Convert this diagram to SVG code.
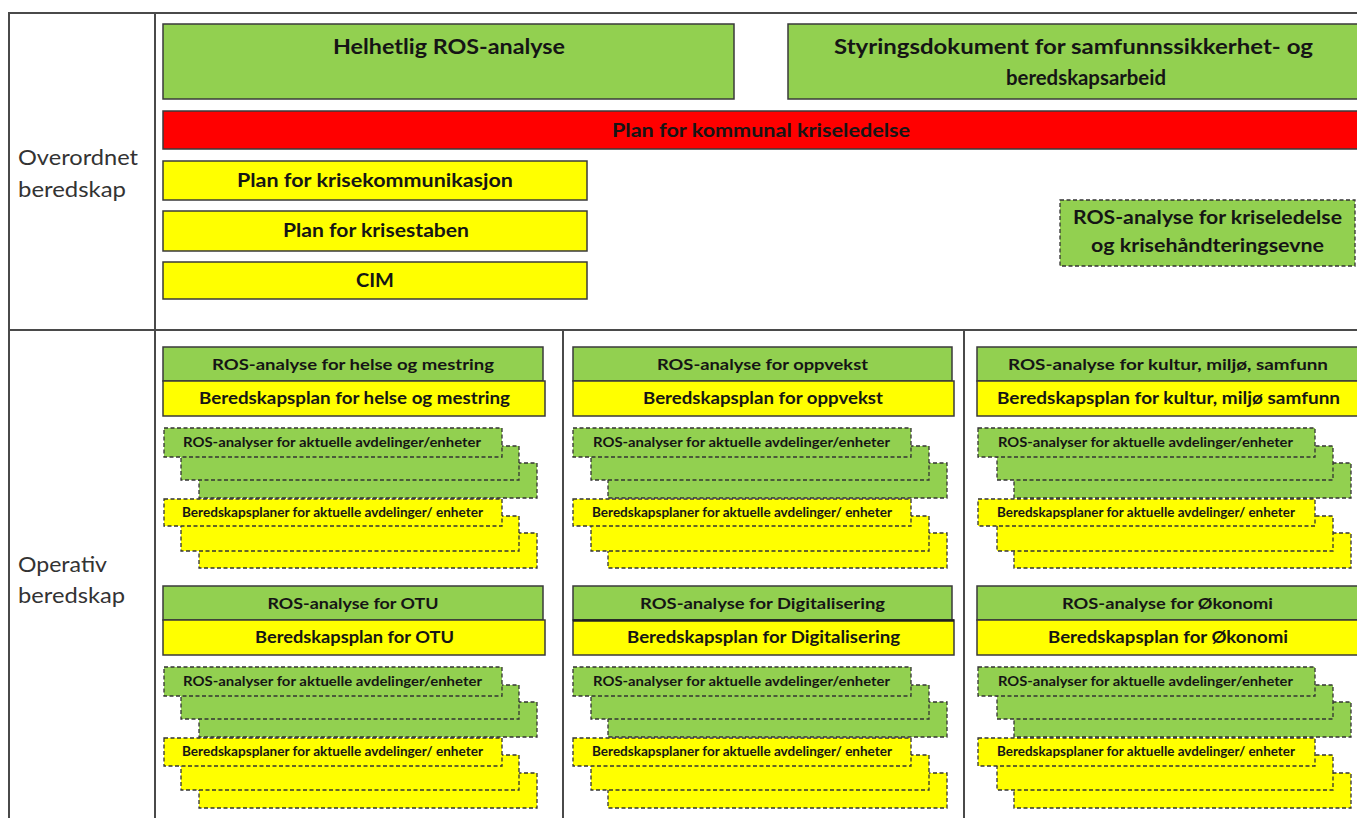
<svg xmlns="http://www.w3.org/2000/svg" width="1357" height="818" viewBox="0 0 1357 818">
<style>
text{font-family:Lato,"Liberation Sans",sans-serif;fill:#151515;text-anchor:middle;font-weight:bold}
.lbl{font-weight:normal;fill:#333;text-anchor:start;font-size:21px}
.g{fill:#92d050;stroke:#3a3a3a;stroke-width:1.5}
.y{fill:#ffff00;stroke:#3a3a3a;stroke-width:1.5}
.r{fill:#ff0000;stroke:#3a3a3a;stroke-width:1.5}
.gd{fill:#92d050;stroke:#333;stroke-width:1.3;stroke-dasharray:4 2.5}
.yd{fill:#ffff00;stroke:#333;stroke-width:1.3;stroke-dasharray:4 2.5}
.t20{font-size:20px}
.t18{font-size:18px}
.t16{font-size:16px}
.t17{font-size:17px}
.sm{font-size:12.5px;text-anchor:start}
.fl{stroke:#4a4a4a;stroke-width:2;fill:none}
</style>
<rect width="1357" height="818" fill="#ffffff"/>
<g id="frame">
<rect x="9" y="13" width="1360" height="820" fill="#fef8ec" class="fl"/>
<line x1="155" y1="13" x2="155" y2="818" class="fl"/>
<line x1="9" y1="330" x2="1357" y2="330" class="fl"/>
<line x1="563" y1="330" x2="563" y2="818" class="fl"/>
<line x1="964" y1="330" x2="964" y2="818" class="fl"/>
</g>
<g id="connectors"></g>
<g id="label-overordnet">
<text class="lbl" x="18" y="165" textLength="120" lengthAdjust="spacingAndGlyphs">Overordnet</text>
<text class="lbl" x="18" y="197" textLength="108" lengthAdjust="spacingAndGlyphs">beredskap</text>
</g>
<g id="label-operativ">
<text class="lbl" x="18" y="572" textLength="89" lengthAdjust="spacingAndGlyphs">Operativ</text>
<text class="lbl" x="18" y="603" textLength="107" lengthAdjust="spacingAndGlyphs">beredskap</text>
</g>
<g id="helhetlig-ros">
<rect class="g" x="163" y="24" width="571" height="75"/>
<text class="t20" x="449" y="54" textLength="232" lengthAdjust="spacingAndGlyphs">Helhetlig ROS-analyse</text>
</g>
<g id="styringsdokument">
<rect class="g" x="788" y="24" width="580" height="75"/>
<text class="t20" x="1073.5" y="54" textLength="479" lengthAdjust="spacingAndGlyphs">Styringsdokument for samfunnssikkerhet- og</text>
<text class="t20" x="1086" y="85" textLength="160" lengthAdjust="spacingAndGlyphs">beredskapsarbeid</text>
</g>
<g id="kriseledelse">
<rect class="r" x="163" y="111" width="1205" height="38"/>
<text class="t18" x="761" y="137" textLength="298" lengthAdjust="spacingAndGlyphs">Plan for kommunal kriseledelse</text>
</g>
<g id="krisekommunikasjon">
<rect class="y" x="163" y="161" width="424" height="39"/>
<text class="t18" x="375" y="187" textLength="276" lengthAdjust="spacingAndGlyphs">Plan for krisekommunikasjon</text>
</g>
<g id="krisestaben">
<rect class="y" x="163" y="211" width="424" height="40"/>
<text class="t18" x="376" y="237" textLength="186" lengthAdjust="spacingAndGlyphs">Plan for krisestaben</text>
</g>
<g id="cim">
<rect class="y" x="163" y="262" width="424" height="37"/>
<text class="t18" x="375" y="287" textLength="38" lengthAdjust="spacingAndGlyphs">CIM</text>
</g>
<g id="ros-kriseledelse">
<rect class="gd" x="1060" y="200" width="295" height="66"/>
<text class="t18" x="1207.5" y="224" textLength="269" lengthAdjust="spacingAndGlyphs">ROS-analyse for kriseledelse</text>
<text class="t18" x="1207.5" y="252" textLength="233" lengthAdjust="spacingAndGlyphs">og krisehåndteringsevne</text>
</g>

<!-- Row 1, Col 1 -->
<g id="helse">
<rect class="g" x="163" y="347" width="380" height="34"/>
<text class="t16" x="353" y="370" textLength="282" lengthAdjust="spacingAndGlyphs">ROS-analyse for helse og mestring</text>
<rect class="y" x="163" y="381" width="382" height="35"/>
<text class="t17" x="354.5" y="404" textLength="311" lengthAdjust="spacingAndGlyphs">Beredskapsplan for helse og mestring</text>
</g>
<g id="helse-ros-enheter">
<rect class="gd" x="199" y="463" width="338" height="35"/>
<rect class="gd" x="181" y="446" width="338" height="34"/>
<rect class="gd" x="164" y="428" width="338" height="29"/>
<text class="sm" x="183" y="447" textLength="298" lengthAdjust="spacingAndGlyphs">ROS-analyser for aktuelle avdelinger/enheter</text>
</g>
<g id="helse-plan-enheter">
<rect class="yd" x="199" y="533" width="338" height="35"/>
<rect class="yd" x="181" y="516" width="338" height="35"/>
<rect class="yd" x="164" y="499" width="338" height="27"/>
<text class="sm" x="182" y="517" textLength="301" lengthAdjust="spacingAndGlyphs">Beredskapsplaner for aktuelle avdelinger/ enheter</text>
</g>

<!-- Row 1, Col 2 -->
<g id="oppvekst">
<rect class="g" x="573" y="347" width="379" height="34"/>
<text class="t16" x="762.5" y="370" textLength="211" lengthAdjust="spacingAndGlyphs">ROS-analyse for oppvekst</text>
<rect class="y" x="573" y="381" width="381" height="35"/>
<text class="t17" x="763" y="404" textLength="240" lengthAdjust="spacingAndGlyphs">Beredskapsplan for oppvekst</text>
</g>
<g id="oppvekst-ros-enheter">
<rect class="gd" x="608" y="463" width="339" height="35"/>
<rect class="gd" x="591" y="446" width="338" height="34"/>
<rect class="gd" x="573" y="428" width="338" height="29"/>
<text class="sm" x="593" y="447" textLength="297" lengthAdjust="spacingAndGlyphs">ROS-analyser for aktuelle avdelinger/enheter</text>
</g>
<g id="oppvekst-plan-enheter">
<rect class="yd" x="608" y="533" width="339" height="35"/>
<rect class="yd" x="591" y="516" width="338" height="35"/>
<rect class="yd" x="573" y="499" width="338" height="27"/>
<text class="sm" x="592" y="517" textLength="300" lengthAdjust="spacingAndGlyphs">Beredskapsplaner for aktuelle avdelinger/ enheter</text>
</g>

<!-- Row 1, Col 3 -->
<g id="kultur">
<rect class="g" x="977" y="347" width="390" height="34"/>
<text class="t16" x="1168" y="370" textLength="320" lengthAdjust="spacingAndGlyphs">ROS-analyse for kultur, miljø, samfunn</text>
<rect class="y" x="977" y="381" width="390" height="35"/>
<text class="t17" x="1168.5" y="404" textLength="343" lengthAdjust="spacingAndGlyphs">Beredskapsplan for kultur, miljø samfunn</text>
</g>
<g id="kultur-ros-enheter">
<rect class="gd" x="1014" y="463" width="337" height="35"/>
<rect class="gd" x="997" y="446" width="336" height="34"/>
<rect class="gd" x="978" y="428" width="337" height="29"/>
<text class="sm" x="998" y="447" textLength="295" lengthAdjust="spacingAndGlyphs">ROS-analyser for aktuelle avdelinger/enheter</text>
</g>
<g id="kultur-plan-enheter">
<rect class="yd" x="1014" y="533" width="337" height="35"/>
<rect class="yd" x="997" y="516" width="336" height="35"/>
<rect class="yd" x="978" y="499" width="337" height="27"/>
<text class="sm" x="997" y="517" textLength="298" lengthAdjust="spacingAndGlyphs">Beredskapsplaner for aktuelle avdelinger/ enheter</text>
</g>

<!-- Row 2, Col 1 -->
<g id="otu">
<rect class="g" x="163" y="586" width="380" height="34"/>
<text class="t16" x="353" y="609" textLength="171" lengthAdjust="spacingAndGlyphs">ROS-analyse for OTU</text>
<rect class="y" x="163" y="620" width="382" height="35"/>
<text class="t17" x="354.5" y="643" textLength="199" lengthAdjust="spacingAndGlyphs">Beredskapsplan for OTU</text>
</g>
<g id="otu-ros-enheter">
<rect class="gd" x="199" y="702" width="338" height="35"/>
<rect class="gd" x="181" y="685" width="338" height="34"/>
<rect class="gd" x="164" y="667" width="338" height="29"/>
<text class="sm" x="183" y="686" textLength="299" lengthAdjust="spacingAndGlyphs">ROS-analyser for aktuelle avdelinger/enheter</text>
</g>
<g id="otu-plan-enheter">
<rect class="yd" x="199" y="773" width="338" height="35"/>
<rect class="yd" x="181" y="755" width="338" height="35"/>
<rect class="yd" x="164" y="738" width="338" height="28"/>
<text class="sm" x="182" y="756" textLength="301" lengthAdjust="spacingAndGlyphs">Beredskapsplaner for aktuelle avdelinger/ enheter</text>
</g>

<!-- Row 2, Col 2 -->
<g id="digitalisering">
<rect class="g" x="573" y="586" width="379" height="34"/>
<text class="t16" x="762.5" y="609" textLength="245" lengthAdjust="spacingAndGlyphs">ROS-analyse for Digitalisering</text>
<rect class="y" x="573" y="620" width="381" height="35"/>
<line x1="573" y1="620.5" x2="954" y2="620.5" stroke="#222" stroke-width="2.5"/>
<text class="t17" x="763.5" y="643" textLength="273" lengthAdjust="spacingAndGlyphs">Beredskapsplan for Digitalisering</text>
</g>
<g id="digitalisering-ros-enheter">
<rect class="gd" x="608" y="702" width="339" height="35"/>
<rect class="gd" x="591" y="685" width="338" height="34"/>
<rect class="gd" x="573" y="667" width="338" height="29"/>
<text class="sm" x="593" y="686" textLength="297" lengthAdjust="spacingAndGlyphs">ROS-analyser for aktuelle avdelinger/enheter</text>
</g>
<g id="digitalisering-plan-enheter">
<rect class="yd" x="608" y="773" width="339" height="35"/>
<rect class="yd" x="591" y="755" width="338" height="35"/>
<rect class="yd" x="573" y="738" width="338" height="28"/>
<text class="sm" x="592" y="756" textLength="300" lengthAdjust="spacingAndGlyphs">Beredskapsplaner for aktuelle avdelinger/ enheter</text>
</g>

<!-- Row 2, Col 3 -->
<g id="okonomi">
<rect class="g" x="977" y="586" width="390" height="34"/>
<text class="t16" x="1167.5" y="609" textLength="211" lengthAdjust="spacingAndGlyphs">ROS-analyse for Økonomi</text>
<rect class="y" x="977" y="620" width="390" height="35"/>
<text class="t17" x="1168" y="643" textLength="240" lengthAdjust="spacingAndGlyphs">Beredskapsplan for Økonomi</text>
</g>
<g id="okonomi-ros-enheter">
<rect class="gd" x="1014" y="702" width="337" height="35"/>
<rect class="gd" x="997" y="685" width="336" height="34"/>
<rect class="gd" x="978" y="667" width="337" height="29"/>
<text class="sm" x="998" y="686" textLength="295" lengthAdjust="spacingAndGlyphs">ROS-analyser for aktuelle avdelinger/enheter</text>
</g>
<g id="okonomi-plan-enheter">
<rect class="yd" x="1014" y="773" width="337" height="35"/>
<rect class="yd" x="997" y="755" width="336" height="35"/>
<rect class="yd" x="978" y="738" width="337" height="28"/>
<text class="sm" x="997" y="756" textLength="298" lengthAdjust="spacingAndGlyphs">Beredskapsplaner for aktuelle avdelinger/ enheter</text>
</g>
</svg>
